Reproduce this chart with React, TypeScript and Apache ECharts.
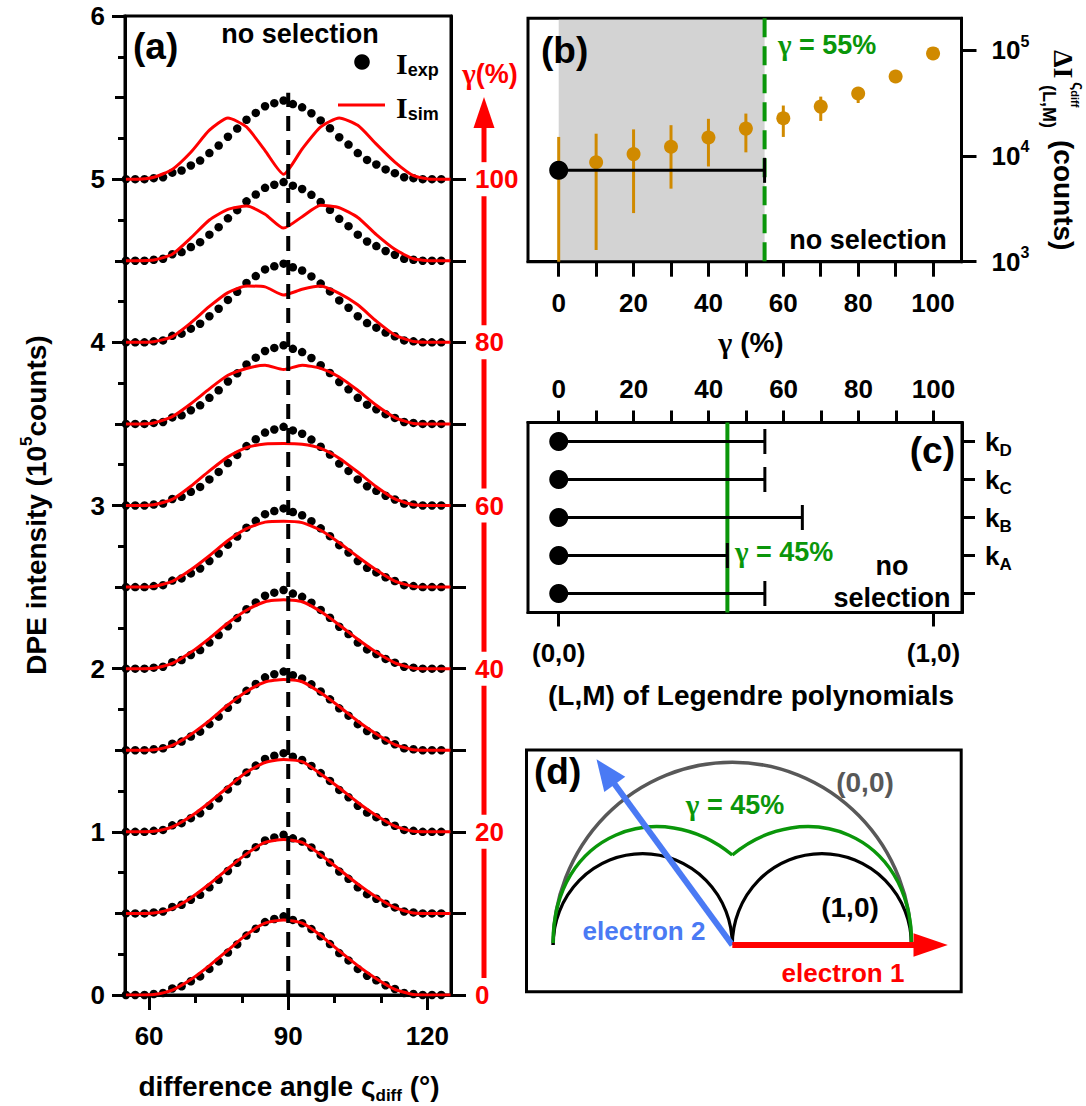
import React, { useEffect, useRef } from "react";
import * as echarts from "echarts";

const FONT = '"Liberation Sans", Arial, Helvetica, sans-serif';
const SERIF = '"Liberation Serif", "Times New Roman", serif';
const RED = "#ff0000";
const GREEN = "#0a960a";
const ORANGE = "#d08a00";
const BLUE = "#4a7af4";
const GRAY = "#585858";
const SHADE = "#d3d3d3";

// ---------------- Panel (a) ----------------
const expAngles = [55, 57, 59, 61, 63, 65, 67, 69, 71, 73, 75, 77, 79, 81, 83, 85, 87, 89, 91, 93, 95, 97, 99, 101, 103, 105, 107, 109, 111, 113, 115, 117, 119, 121, 123];
const expIntensity = [0, 0, 0, 0.006, 0.012, 0.04, 0.053, 0.084, 0.114, 0.16, 0.206, 0.26, 0.31, 0.364, 0.406, 0.447, 0.466, 0.482, 0.46, 0.44, 0.404, 0.36, 0.312, 0.257, 0.212, 0.16, 0.118, 0.09, 0.06, 0.037, 0.012, 0.006, 0, 0, 0];
const simAngles = [55, 57, 61, 65, 69, 73, 77, 81, 85, 89, 93, 97, 101, 105, 109, 113, 117, 121, 125];
const sim0 = [0, 0, 0.003, 0.03, 0.095, 0.18, 0.275, 0.37, 0.44, 0.46, 0.44, 0.365, 0.27, 0.18, 0.1, 0.035, 0.003, 0, 0];
const sim10 = [0, 0, 0.003, 0.03, 0.095, 0.18, 0.275, 0.365, 0.435, 0.453, 0.435, 0.36, 0.27, 0.18, 0.1, 0.035, 0.003, 0, 0];
const sim20 = [0, 0, 0.003, 0.03, 0.095, 0.18, 0.275, 0.365, 0.425, 0.443, 0.43, 0.355, 0.27, 0.18, 0.1, 0.035, 0.003, 0, 0];
const sim30 = [0, 0, 0.003, 0.03, 0.097, 0.182, 0.277, 0.36, 0.418, 0.434, 0.42, 0.352, 0.268, 0.178, 0.1, 0.035, 0.003, 0, 0];
const sim40 = [0, 0, 0.003, 0.032, 0.1, 0.186, 0.28, 0.358, 0.41, 0.423, 0.41, 0.35, 0.268, 0.18, 0.1, 0.036, 0.003, 0, 0];
const sim50 = [0, 0, 0.004, 0.035, 0.106, 0.192, 0.285, 0.358, 0.398, 0.404, 0.395, 0.348, 0.272, 0.186, 0.105, 0.037, 0.004, 0, 0];
const sim60 = [0, 0, 0.005, 0.037, 0.118, 0.212, 0.298, 0.355, 0.377, 0.38, 0.375, 0.35, 0.29, 0.205, 0.115, 0.04, 0.005, 0, 0];
const sim70 = [0, 0, 0.006, 0.045, 0.124, 0.215, 0.298, 0.34, 0.36, 0.333, 0.36, 0.34, 0.288, 0.206, 0.114, 0.039, 0.003, 0, 0];
const sim80 = [0, 0, 0.004, 0.035, 0.12, 0.22, 0.305, 0.345, 0.34, 0.29, 0.325, 0.345, 0.3, 0.23, 0.13, 0.045, 0.005, 0, 0];
const sim90 = [0, 0, 0.004, 0.04, 0.14, 0.25, 0.315, 0.335, 0.285, 0.2, 0.27, 0.34, 0.325, 0.265, 0.16, 0.07, 0.012, 0, 0];
const sim100 = [0, 0, 0.012, 0.06, 0.165, 0.3, 0.375, 0.32, 0.175, 0.03, 0.185, 0.32, 0.375, 0.33, 0.215, 0.105, 0.022, 0, 0];
const simCurves = [sim0, sim10, sim20, sim30, sim40, sim50, sim60, sim70, sim80, sim90, sim100];
const gammaSteps = [0, 10, 20, 30, 40, 50, 60, 70, 80, 90, 100];
const curveOffset = 0.5;
const centerLine = [[90, 0], [90, 5.53]];
const aMajorTicks = [60, 90, 120];
const aMinorTicks = [70, 80, 100, 110];

// ---------------- Panel (b) ----------------
const gammaB = [0, 10, 20, 30, 40, 50, 60, 70, 80, 90, 100];
const deltaI = [7300, 8700, 10400, 12200, 14900, 18100, 22700, 29200, 38900, 56200, 93000];
const deltaILow = [1000, 1290, 2880, 4900, 7940, 10800, 15100, 21400, 31600, 52000, 90000];
const deltaIHigh = [15100, 16200, 17800, 19500, 22400, 25100, 29900, 36300, 43700, 60000, 96000];
const noSelectionValue = 7300;
const noSelectionUpper = 55;
const shadeRange = [0, 55];
const gammaThresholdB = 55;
const decadeExps = [3, 4, 5];
const gammaTicks = [0, 10, 20, 30, 40, 50, 60, 70, 80, 90, 100];
const gammaLabels = [0, 20, 40, 60, 80, 100];

// ---------------- Panel (c) ----------------
const rowKeys = ["none", "A", "B", "C", "D"];
const rowUpper = [55, 45, 65, 55, 55];
const gammaThresholdC = 45;
const lmPositions = [0, 100];
const lmLabels = ["(0,0)", "(1,0)"];

// ---------------- layout ----------------
const GA = { left: 125, top: 16, width: 326, height: 979 };
const GB = { left: 528, top: 18.3, width: 433.5, height: 243.4 };
const GC = { left: 528, top: 422.5, width: 434, height: 190 };

const axisLine = { show: true, onZero: false, lineStyle: { color: "#000", width: 3 } };
const noLine = { show: false, onZero: false };
const tick = (length: number, extra: any = {}) => ({ show: true, inside: false, length, lineStyle: { color: "#000", width: 3 }, ...extra });
const lbl = (extra: any = {}) => ({ show: true, color: "#000", fontSize: 26, fontWeight: "bold", fontFamily: FONT, ...extra });
const noSplit = { show: false };

const txt = (x: number, y: number, text: string, size: number, color = "#000", align = "left", extra: any = {}) => ({
  type: "text",
  x,
  y,
  z: 50,
  style: { text, font: `bold ${size}px ${FONT}`, fill: color, align, verticalAlign: "middle", ...extra },
});
// text with a serif gamma glyph
const gtxt = (x: number, y: number, rest: string, size: number, color: string, align = "left") => ({
  type: "text",
  x,
  y,
  z: 50,
  style: {
    text: `{g|γ}{t|${rest}}`,
    align,
    verticalAlign: "middle",
    rich: {
      g: { fontFamily: SERIF, fontSize: size + 2, fontWeight: "bold", fill: color, lineHeight: size + 6, verticalAlign: "middle" },
      t: { fontFamily: FONT, fontSize: size, fontWeight: "bold", fill: color, lineHeight: size + 6, verticalAlign: "middle" },
    },
  },
});

function buildOption() {
  const series: any[] = [];
  // panel a: experimental dots
  gammaSteps.forEach((g, i) => {
    const off = i * curveOffset;
    series.push({
      type: "scatter", xAxisIndex: 0, yAxisIndex: 0, silent: true, z: 2,
      symbol: "circle", symbolSize: 8.5, itemStyle: { color: "#000", opacity: 1 },
      data: expAngles.map((x, k) => [x, expIntensity[k] + off]),
    });
  });
  // panel a: simulations
  gammaSteps.forEach((g, i) => {
    const off = i * curveOffset;
    series.push({
      type: "line", xAxisIndex: 0, yAxisIndex: 0, silent: true, z: 3, smooth: 0.2,
      symbol: "none", showSymbol: false, lineStyle: { color: RED, width: 3 },
      data: simAngles.map((x, k) => [x, simCurves[i][k] + off]),
    });
  });
  series.push({
    type: "line", xAxisIndex: 0, yAxisIndex: 0, silent: true, z: 4, symbol: "none",
    lineStyle: { color: "#000", width: 4, type: [15, 9] }, data: centerLine,
  });

  // panel b
  series.push({
    type: "custom", xAxisIndex: 2, yAxisIndex: 4, silent: true, z: 1,
    data: [shadeRange], encode: { x: [0, 1] },
    renderItem: (p: any, api: any) => {
      const cs = p.coordSys;
      const x0 = api.coord([api.value(0), 4])[0];
      const x1 = api.coord([api.value(1), 4])[0];
      return { type: "rect", shape: { x: x0, y: cs.y + 1.5, width: x1 - x0, height: cs.height - 3 }, style: { fill: SHADE } };
    },
  });
  series.push({
    type: "custom", xAxisIndex: 2, yAxisIndex: 4, silent: true, z: 2,
    data: [[gammaThresholdB]], encode: { x: 0 },
    renderItem: (p: any, api: any) => {
      const cs = p.coordSys;
      const x = api.coord([api.value(0), 4])[0];
      return { type: "line", shape: { x1: x, y1: cs.y, x2: x, y2: cs.y + cs.height }, style: { stroke: GREEN, lineWidth: 4, lineDash: [19, 9] } };
    },
  });
  series.push({
    type: "custom", xAxisIndex: 2, yAxisIndex: 4, silent: true, z: 3,
    data: gammaB.map((g, i) => [g, Math.log10(deltaILow[i]), Math.log10(deltaIHigh[i])]),
    encode: { x: 0, y: [1, 2] },
    renderItem: (p: any, api: any) => {
      const a = api.coord([api.value(0), api.value(1)]);
      const b = api.coord([api.value(0), api.value(2)]);
      return { type: "line", shape: { x1: a[0], y1: a[1], x2: b[0], y2: b[1] }, style: { stroke: ORANGE, lineWidth: 3 } };
    },
  });
  series.push({
    type: "scatter", xAxisIndex: 2, yAxisIndex: 4, silent: true, z: 4,
    symbol: "circle", symbolSize: 14, itemStyle: { color: ORANGE, opacity: 1 },
    data: gammaB.map((g, i) => [g, Math.log10(deltaI[i])]),
  });
  const hBar = (color: string) => (p: any, api: any) => {
    const a = api.coord([api.value(0), api.value(2)]);
    const b = api.coord([api.value(1), api.value(2)]);
    return {
      type: "group",
      children: [
        { type: "line", shape: { x1: a[0], y1: a[1], x2: b[0], y2: b[1] }, style: { stroke: color, lineWidth: 3 } },
        { type: "line", shape: { x1: b[0], y1: b[1] - 12.5, x2: b[0], y2: b[1] + 12.5 }, style: { stroke: color, lineWidth: 3 } },
      ],
    };
  };
  series.push({
    type: "custom", xAxisIndex: 2, yAxisIndex: 4, silent: true, z: 5,
    data: [[0, noSelectionUpper, Math.log10(noSelectionValue)]], encode: { x: [0, 1], y: 2 },
    renderItem: hBar("#000"),
  });
  series.push({
    type: "scatter", xAxisIndex: 2, yAxisIndex: 4, silent: true, z: 6,
    symbol: "circle", symbolSize: 19, itemStyle: { color: "#000", opacity: 1 },
    data: [[0, Math.log10(noSelectionValue)]],
  });

  // panel c
  series.push({
    type: "custom", xAxisIndex: 3, yAxisIndex: 5, silent: true, z: 2,
    data: [[gammaThresholdC, 0]], encode: { x: 0 },
    renderItem: (p: any, api: any) => {
      const cs = p.coordSys;
      const x = api.coord([api.value(0), 0])[0];
      return { type: "line", shape: { x1: x, y1: cs.y, x2: x, y2: cs.y + cs.height }, style: { stroke: GREEN, lineWidth: 4 } };
    },
  });
  series.push({
    type: "custom", xAxisIndex: 3, yAxisIndex: 5, silent: true, z: 3,
    data: rowUpper.map((u, i) => [0, u, i]), encode: { x: [0, 1], y: 2 },
    renderItem: hBar("#000"),
  });
  series.push({
    type: "scatter", xAxisIndex: 3, yAxisIndex: 5, silent: true, z: 4,
    symbol: "circle", symbolSize: 19, itemStyle: { color: "#000", opacity: 1 },
    data: rowKeys.map((k, i) => [0, i]),
  });

  // ---------- graphics ----------
  const g: any[] = [];
  // panel a red gamma arrow
  const yA = (v: number) => GA.top + GA.height * (1 - v / 6);
  const arrowX = 484;
  const gap = 17;
  for (let k = 0; k < 5; k++) {
    g.push({ type: "line", z: 50, shape: { x1: arrowX, y1: yA(k) - gap, x2: arrowX, y2: yA(k + 1) + gap }, style: { stroke: RED, lineWidth: 5 } });
  }
  g.push({ type: "line", z: 50, shape: { x1: arrowX, y1: yA(5) - gap, x2: arrowX, y2: 125 }, style: { stroke: RED, lineWidth: 5 } });
  g.push({ type: "polygon", z: 50, shape: { points: [[arrowX, 97], [arrowX - 10.5, 128], [arrowX + 10.5, 128]] }, style: { fill: RED } });
  g.push(gtxt(490, 74, "(%)", 27, RED, "center"));
  g.push(txt(133, 46, "(a)", 37));
  g.push(txt(300, 34, "no selection", 27, "#000", "center"));
  // legend
  g.push({ type: "circle", z: 50, shape: { cx: 362, cy: 62, r: 7.8 }, style: { fill: "#000" } });
  g.push({ type: "line", z: 50, shape: { x1: 338, y1: 105, x2: 385, y2: 105 }, style: { stroke: RED, lineWidth: 3 } });
  const legRich = {
    I: { fontFamily: SERIF, fontSize: 30, fontWeight: "bold", fill: "#000", lineHeight: 32, verticalAlign: "middle" },
    s: { fontFamily: FONT, fontSize: 18, fontWeight: "bold", fill: "#000", lineHeight: 18, verticalAlign: "bottom" },
  };
  g.push({ type: "text", z: 50, x: 396, y: 63, style: { text: "{I|I}{s|exp}", rich: legRich, align: "left", verticalAlign: "middle" } });
  g.push({ type: "text", z: 50, x: 396, y: 107, style: { text: "{I|I}{s|sim}", rich: legRich, align: "left", verticalAlign: "middle" } });
  // axis titles a
  const titleRich = {
    m: { fontFamily: FONT, fontSize: 28, fontWeight: "bold", fill: "#000", lineHeight: 36, verticalAlign: "middle" },
    sub: { fontFamily: FONT, fontSize: 17, fontWeight: "bold", fill: "#000", lineHeight: 17, verticalAlign: "bottom" },
    sup: { fontFamily: FONT, fontSize: 17, fontWeight: "bold", fill: "#000", lineHeight: 17, verticalAlign: "top" },
  };
  g.push({
    type: "text", z: 50, x: 36, y: 505, rotation: Math.PI / 2,
    style: { text: "{m|DPE intensity (10}{sup|5}{m|counts)}", rich: titleRich, align: "center", verticalAlign: "middle" },
  });
  g.push({
    type: "text", z: 50, x: 289, y: 1086,
    style: { text: "{m|difference angle ς}{sub|diff}{m| (°)}", rich: titleRich, align: "center", verticalAlign: "middle" },
  });

  // panel b texts
  g.push(txt(541, 50, "(b)", 37));
  g.push(gtxt(778, 45, " = 55%", 27, GREEN));
  g.push(txt(868, 240, "no selection", 27, "#000", "center"));
  g.push(gtxt(751, 342, " (%)", 28, "#000", "center"));
  g.push({
    type: "group", x: 1063, y: 0, rotation: -Math.PI / 2, z: 50,
    children: [
      { type: "text", x: 50, y: 0, style: { text: "ΔI", font: `bold 28px ${SERIF}`, fill: "#000", align: "left", verticalAlign: "middle" } },
      {
        type: "text", x: 82, y: -15,
        style: {
          text: "{a|ς}{b|diff}", align: "left", verticalAlign: "middle",
          rich: {
            a: { fontFamily: FONT, fontSize: 16, fontWeight: "bold", fill: "#000", lineHeight: 18, verticalAlign: "middle" },
            b: { fontFamily: FONT, fontSize: 11, fontWeight: "bold", fill: "#000", lineHeight: 11, verticalAlign: "bottom" },
          },
        },
      },
      { type: "text", x: 85, y: 14, style: { text: "(L,M)", font: `bold 18px ${FONT}`, fill: "#000", align: "left", verticalAlign: "middle" } },
      { type: "text", x: 140, y: 0, style: { text: "(counts)", font: `bold 28px ${FONT}`, fill: "#000", align: "left", verticalAlign: "middle" } },
    ],
  });

  // panel c texts
  g.push(txt(955, 450, "(c)", 37, "#000", "right"));
  g.push(gtxt(735, 552, " = 45%", 27, GREEN));
  g.push(txt(892, 566, "no", 27, "#000", "center"));
  g.push(txt(892, 598, "selection", 27, "#000", "center"));
  g.push(txt(751, 695, "(L,M) of Legendre polynomials", 28, "#000", "center"));

  // panel d schematic
  const O = [732.3, 945];
  const R = 179.2;
  const K = 1.02;
  g.push({ type: "rect", z: 40, shape: { x: 526.5, y: 750, width: 434.7, height: 241.7 }, style: { fill: "none", stroke: "#000", lineWidth: 3 } });
  g.push({ type: "arc", z: 41, x: O[0], y: O[1], scaleY: K, shape: { cx: 0, cy: 0, r: R, startAngle: Math.PI, endAngle: 2 * Math.PI, clockwise: true }, style: { stroke: GRAY, lineWidth: 3.5, fill: "none" } });
  g.push({ type: "arc", z: 41, x: O[0], y: O[1], scaleY: K, shape: { cx: -R / 2, cy: 0, r: R / 2, startAngle: Math.PI, endAngle: 2 * Math.PI, clockwise: true }, style: { stroke: "#000", lineWidth: 3.2, fill: "none" } });
  g.push({ type: "arc", z: 41, x: O[0], y: O[1], scaleY: K, shape: { cx: R / 2, cy: 0, r: R / 2, startAngle: Math.PI, endAngle: 2 * Math.PI, clockwise: true }, style: { stroke: "#000", lineWidth: 3.2, fill: "none" } });
  const cuspY = O[1] - 90;
  [-1, 1].forEach((s) => {
    g.push({
      type: "bezierCurve", z: 42,
      shape: { x1: O[0] + s * R, y1: O[1] - 2, cpx1: O[0] + s * R, cpy1: O[1] - 112, cpx2: O[0] + s * 72.5, cpy2: cuspY - 60, x2: O[0], y2: cuspY },
      style: { stroke: GREEN, lineWidth: 3.5, fill: "none" },
    });
  });
  // blue arrow (electron 2)
  const T = [596.5, 759.3];
  const dx = T[0] - O[0], dy = T[1] - O[1];
  const L = Math.hypot(dx, dy);
  const ux = dx / L, uy = dy / L;
  const nx = -uy, ny = ux;
  const headL = 31, headW = 13;
  const Bx = T[0] - headL * ux, By = T[1] - headL * uy;
  g.push({ type: "line", z: 43, shape: { x1: O[0], y1: O[1], x2: Bx + 2 * ux, y2: By + 2 * uy }, style: { stroke: BLUE, lineWidth: 6 } });
  g.push({ type: "polygon", z: 43, shape: { points: [T, [Bx + headW * nx, By + headW * ny], [Bx - headW * nx, By - headW * ny]] }, style: { fill: BLUE } });
  // red arrow (electron 1)
  g.push({ type: "line", z: 43, shape: { x1: O[0], y1: O[1], x2: 915, y2: O[1] }, style: { stroke: RED, lineWidth: 6 } });
  g.push({ type: "polygon", z: 43, shape: { points: [[947.8, O[1]], [913.5, O[1] - 11.7], [913.5, O[1] + 11.7]] }, style: { fill: RED } });
  g.push(txt(534, 771, "(d)", 37));
  g.push(txt(865, 782, "(0,0)", 28, GRAY, "center"));
  g.push(gtxt(735, 805, " = 45%", 27, GREEN, "center"));
  g.push(txt(850, 907, "(1,0)", 28, "#000", "center"));
  g.push(txt(644, 931, "electron 2", 26, BLUE, "center"));
  g.push(txt(843, 973, "electron 1", 26, RED, "center"));

  const gridBase = { show: true, borderColor: "#000", borderWidth: 3, backgroundColor: "transparent", containLabel: false, outerBoundsMode: "none" };
  const exRich = {
    m: { fontFamily: FONT, fontSize: 26, fontWeight: "bold", color: "#000", lineHeight: 34, verticalAlign: "middle" },
    s: { fontFamily: FONT, fontSize: 16, fontWeight: "bold", color: "#000", lineHeight: 16, verticalAlign: "top" },
  };
  const kRich = {
    k: { fontFamily: FONT, fontSize: 26, fontWeight: "bold", color: "#000", lineHeight: 34, verticalAlign: "middle" },
    s: { fontFamily: FONT, fontSize: 17, fontWeight: "bold", color: "#000", lineHeight: 17, verticalAlign: "bottom" },
  };

  return {
    animation: false,
    backgroundColor: "#fff",
    textStyle: { fontFamily: FONT },
    grid: [
      { ...gridBase, ...GA },
      { ...gridBase, ...GB },
      { ...gridBase, ...GC },
    ],
    xAxis: [
      { gridIndex: 0, type: "value", position: "bottom", min: 54.8, max: 125.1, axisLine, axisTick: tick(15, { customValues: aMajorTicks }), axisLabel: lbl({ customValues: aMajorTicks, margin: 28 }), splitLine: noSplit },
      { gridIndex: 0, type: "value", position: "bottom", min: 54.8, max: 125.1, axisLine: noLine, axisTick: tick(8, { customValues: aMinorTicks }), axisLabel: { show: false }, splitLine: noSplit },
      { gridIndex: 1, type: "value", position: "bottom", min: -8.2, max: 107.6, axisLine, axisTick: tick(15, { customValues: gammaTicks }), axisLabel: lbl({ customValues: gammaLabels, margin: 28 }), splitLine: noSplit },
      { gridIndex: 2, type: "value", position: "top", min: -8.2, max: 107.6, axisLine, axisTick: tick(12, { customValues: gammaTicks }), axisLabel: lbl({ customValues: gammaLabels, margin: 21 }), splitLine: noSplit },
      {
        gridIndex: 2, type: "value", position: "bottom", min: -8.2, max: 107.6, axisLine, axisTick: tick(14, { customValues: lmPositions }),
        axisLabel: lbl({ customValues: lmPositions, margin: 27, formatter: (v: number) => lmLabels[lmPositions.indexOf(v)] ?? "" }), splitLine: noSplit,
      },
    ],
    yAxis: [
      { gridIndex: 0, type: "value", position: "left", min: 0, max: 6, interval: 1, axisLine, axisTick: tick(13), axisLabel: lbl({ margin: 20 }), splitLine: noSplit },
      { gridIndex: 0, type: "value", position: "left", min: 0, max: 6, interval: 0.5, axisLine: noLine, axisTick: tick(10), axisLabel: { show: false }, splitLine: noSplit },
      { gridIndex: 0, type: "value", position: "left", min: 0, max: 6, interval: 0.25, axisLine: noLine, axisTick: tick(7), axisLabel: { show: false }, splitLine: noSplit },
      {
        gridIndex: 0, type: "value", position: "right", min: 0, max: 6, axisLine,
        axisTick: tick(15, { customValues: gammaSteps.map((_, i) => i * curveOffset) }),
        axisLabel: lbl({
          color: RED, margin: 24,
          customValues: gammaSteps.map((_, i) => i * curveOffset).filter((_, i) => i % 2 === 0),
          formatter: (v: number) => String(gammaSteps[Math.round(v / curveOffset)]),
        }),
        splitLine: noSplit,
      },
      {
        gridIndex: 1, type: "value", position: "right", min: 3, max: 5.3, axisLine,
        axisTick: tick(15, { customValues: decadeExps }),
        axisLabel: { show: true, customValues: decadeExps, margin: 30, formatter: (v: number) => `{m|10}{s|${v}}`, rich: exRich },
        splitLine: noSplit,
      },
      {
        gridIndex: 2, type: "category", position: "right", data: rowKeys, axisLine,
        axisTick: tick(13, { alignWithLabel: true }),
        axisLabel: { show: true, margin: 23, formatter: (v: string) => (v === "none" ? "" : `{k|k}{s|${v}}`), rich: kRich },
        splitLine: noSplit,
      },
    ],
    series,
    graphic: g,
  };
}

export default function App() {
  const ref = useRef<HTMLDivElement>(null);
  useEffect(() => {
    document.body.style.margin = "0";
    const chart = echarts.init(ref.current!, null, { renderer: "svg" });
    chart.setOption(buildOption() as any);
    return () => chart.dispose();
  }, []);
  return <div ref={ref} style={{ width: 1086, height: 1106 }} />;
}
